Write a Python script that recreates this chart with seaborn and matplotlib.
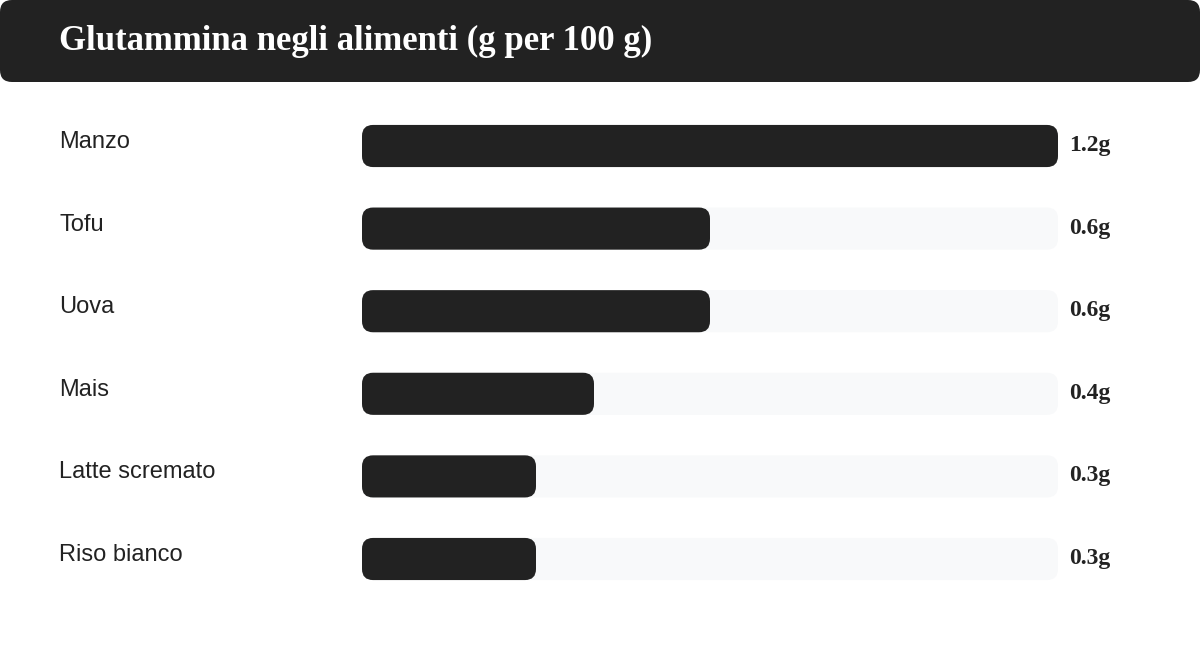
import matplotlib
matplotlib.use("Agg")
import matplotlib.pyplot as plt
import seaborn as sns
import pandas as pd
from matplotlib.patches import FancyBboxPatch
from matplotlib.transforms import IdentityTransform

# ---- data ----
foods = ["Manzo", "Tofu", "Uova", "Mais", "Latte scremato", "Riso bianco"]
values = [1.2, 0.6, 0.6, 0.4, 0.3, 0.3]
value_labels = ["1.2g", "0.6g", "0.6g", "0.4g", "0.3g", "0.3g"]
max_value = 1.2
title = "Glutammina negli alimenti (g per 100 g)"

DARK = "#222222"
TRACK = "#f8f9fa"

sns.set_theme(style="white")
plt.rcParams['font.family'] = ['Liberation Sans', 'DejaVu Sans']

W, H = 1200, 648
fig = plt.figure(figsize=(12, 6.48), dpi=100)
fig.patch.set_facecolor("white")


def px(x0, y0, w, h):
    return [x0 / W, 1 - (y0 + h) / H, w / W, h / H]


ax = fig.add_axes(px(362, 104.7, 696, 495.6))
df = pd.DataFrame({"food": foods, "value": values,
                   "track": [max_value] * len(foods)})
sns.barplot(data=df, x="track", y="food", color=TRACK, width=0.51,
            ax=ax, saturation=1)
sns.barplot(data=df, x="value", y="food", color=DARK, width=0.51,
            ax=ax, saturation=1)
ax.set_xlim(0, max_value)
ax.set_ylim(len(foods) - 0.5, -0.5)
ax.axis("off")

# replace bars with rounded versions (same geometry, in display pixels)
fig.canvas.draw()
bars = list(ax.patches)
for i, p in enumerate(bars):
    bb = p.get_window_extent()
    col = p.get_facecolor()
    p.set_visible(False)
    r = min(11, bb.width / 2, bb.height / 2)
    rp = FancyBboxPatch((bb.x0, bb.y0), bb.width, bb.height,
                        boxstyle=f"round,pad=0,rounding_size={r}",
                        transform=IdentityTransform(), facecolor=col,
                        edgecolor="none", zorder=2 if i >= len(foods) else 1)
    fig.add_artist(rp)

# category labels and value labels
for i, (f, vl) in enumerate(zip(foods, value_labels)):
    ax.annotate(f, xy=(59, i), xycoords=("figure pixels", "data"),
                xytext=(0, 4), textcoords="offset pixels",
                ha="left", va="center", fontsize=17, color=DARK,
                family=["Liberation Sans", "DejaVu Sans"], annotation_clip=False)
    ax.annotate(vl, xy=(max_value, i), xycoords="data",
                xytext=(11, 0.5), textcoords="offset pixels",
                ha="left", va="center", fontsize=17, color=DARK,
                fontweight="bold", family=["Liberation Serif", "DejaVu Serif"],
                annotation_clip=False)

# title banner
banner = FancyBboxPatch((0, H - 82), W, 82,
                        boxstyle="round,pad=0,rounding_size=12",
                        transform=IdentityTransform(), facecolor=DARK,
                        edgecolor="none")
fig.add_artist(banner)
fig.text(59 / W, 1 - 50 / H, title, color="white", fontsize=25,
         fontweight="bold", family=["Liberation Serif", "DejaVu Serif"],
         ha="left", va="baseline")

fig.savefig("out.png", dpi=100, facecolor="white")
